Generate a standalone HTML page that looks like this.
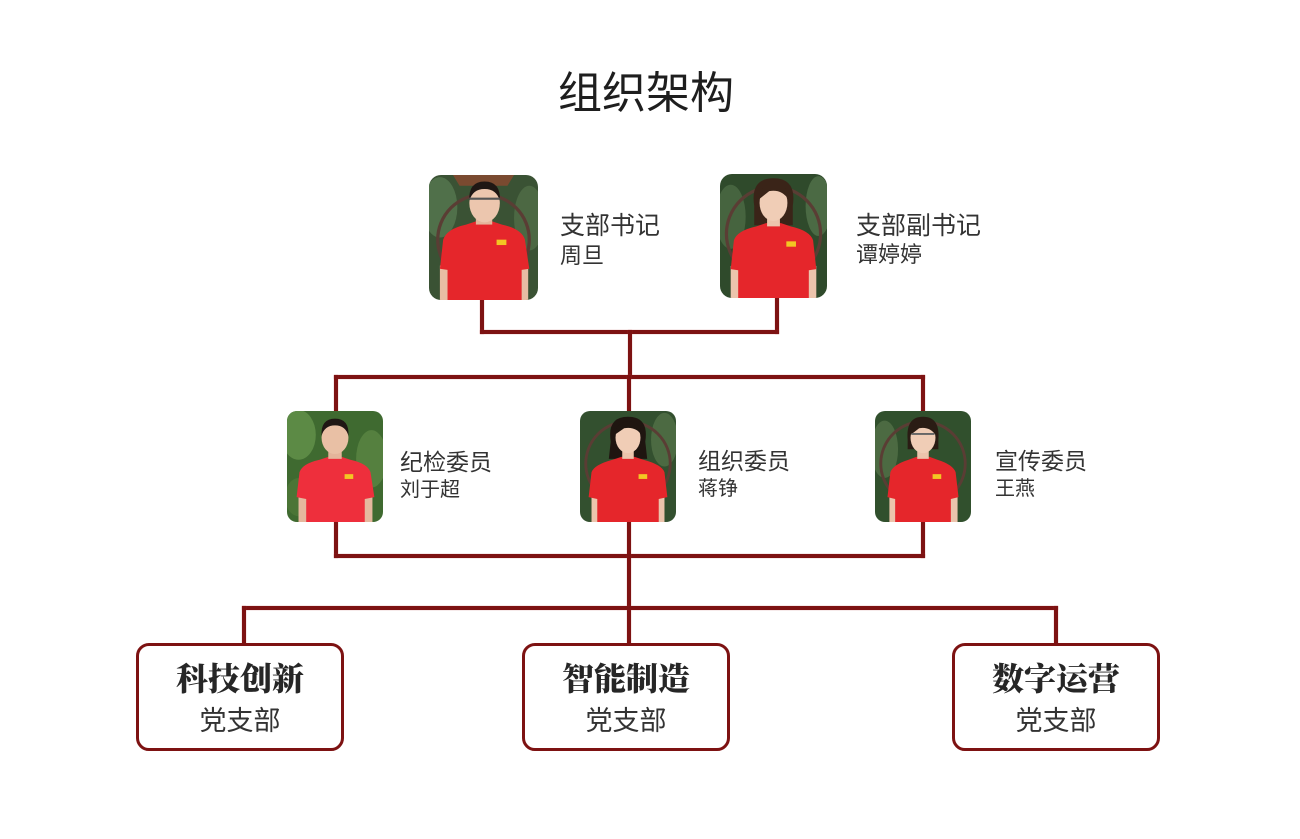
<!DOCTYPE html>
<html>
<head>
<meta charset="utf-8">
<style>
html,body{margin:0;padding:0;}
body{width:1300px;height:839px;background:#fff;position:relative;overflow:hidden;font-family:"Liberation Sans","Noto Sans CJK SC",sans-serif;color:#333;}
.t{position:absolute;white-space:nowrap;line-height:1;}
.ln{position:absolute;background:#7d1212;box-shadow:0 0 0.6px #b04040;}
.photo{position:absolute;overflow:hidden;border-radius:12px;}
.photo svg{display:block;width:100%;height:100%;}
.box{position:absolute;border:3px solid #7d1212;border-radius:13px;box-sizing:border-box;background:#fff;}
.bt{position:absolute;left:0;right:0;text-align:center;white-space:nowrap;line-height:1;}
.b1{top:17px;font-family:"Liberation Serif","Noto Serif CJK SC",serif;font-weight:900;font-size:32px;color:#262626;}
.b2{top:62px;font-size:27px;color:#333;}
</style>
</head>
<body>

<div class="t" style="left:558px;top:72px;font-size:44px;color:#1e1e1e;">组织架构</div>

<!-- connectors -->
<div class="ln" style="left:480px;top:298px;width:4px;height:36px;"></div>
<div class="ln" style="left:775px;top:296px;width:4px;height:38px;"></div>
<div class="ln" style="left:480px;top:330px;width:299px;height:4px;"></div>
<div class="ln" style="left:628px;top:330px;width:4px;height:49px;"></div>
<div class="ln" style="left:334px;top:375px;width:591px;height:4px;"></div>
<div class="ln" style="left:334px;top:375px;width:4px;height:38px;"></div>
<div class="ln" style="left:921px;top:375px;width:4px;height:38px;"></div>
<div class="ln" style="left:627px;top:375px;width:4px;height:38px;"></div>
<div class="ln" style="left:334px;top:520px;width:4px;height:38px;"></div>
<div class="ln" style="left:921px;top:520px;width:4px;height:38px;"></div>
<div class="ln" style="left:334px;top:554px;width:591px;height:4px;"></div>
<div class="ln" style="left:627px;top:520px;width:4px;height:126px;"></div>
<div class="ln" style="left:242px;top:606px;width:816px;height:4px;"></div>
<div class="ln" style="left:242px;top:606px;width:4px;height:40px;"></div>
<div class="ln" style="left:1054px;top:606px;width:4px;height:40px;"></div>

<!-- photo 1 -->
<div class="photo" style="left:429px;top:175px;width:109px;height:125px;">
<svg viewBox="0 0 100 116" preserveAspectRatio="none">
<rect width="100" height="116" fill="#3a5234"/>
<ellipse cx="10" cy="30" rx="16" ry="28" fill="#50704a"/>
<ellipse cx="92" cy="40" rx="14" ry="30" fill="#4c6843"/>
<polygon points="22,0 78,0 72,10 28,10" fill="#7a4a30"/>
<circle cx="50" cy="60" r="42" fill="none" stroke="#5a3d34" stroke-width="3"/>
<rect x="10" y="84" width="10" height="32" fill="#e8bca3"/>
<rect x="81" y="84" width="10" height="32" fill="#e8bca3"/>
<path d="M17 116 L17 88 L10 87 L13 60 Q16 50 34 46 L43 43 L58 43 L67 46 Q85 50 88 60 L92 87 L85 88 L85 116 Z" fill="#e5262b"/>
<rect x="43" y="36" width="15" height="10" fill="#e4b59b"/>
<ellipse cx="51" cy="26" rx="14" ry="18" fill="#ecc6ae"/>
<path d="M37 24 Q36 6 51 6 Q66 6 65 24 Q62 13 51 13 Q40 13 37 24 Z" fill="#1f1714"/>
<rect x="37" y="21" width="28" height="2" fill="#555"/>
<rect x="62" y="60" width="9" height="5" fill="#f3c623"/>
</svg>
</div>

<!-- photo 2 -->
<div class="photo" style="left:720px;top:174px;width:107px;height:124px;">
<svg viewBox="0 0 100 116" preserveAspectRatio="none">
<rect width="100" height="116" fill="#2f4a2b"/>
<ellipse cx="10" cy="40" rx="14" ry="30" fill="#46643f"/>
<ellipse cx="92" cy="30" rx="12" ry="28" fill="#4b6a44"/>
<circle cx="50" cy="56" r="44" fill="none" stroke="#5a3d34" stroke-width="3"/>
<path d="M32 30 Q28 4 50 4 Q72 4 68 30 L68 48 L32 48 Z" fill="#3a2418"/>
<rect x="10" y="86" width="10" height="30" fill="#ecc4ac"/>
<rect x="80" y="86" width="10" height="30" fill="#ecc4ac"/>
<path d="M17 116 L17 90 L10 89 L13 62 Q16 53 34 49 L43 46 L57 46 L66 49 Q84 53 87 62 L90 89 L83 90 L83 116 Z" fill="#e5262b"/>
<rect x="44" y="38" width="12" height="11" fill="#ecc4ac"/>
<ellipse cx="50" cy="27" rx="13" ry="17" fill="#f0cdb6"/>
<path d="M36 24 Q38 9 50 9 Q64 9 64 24 Q58 14 46 16 Z" fill="#3a2418"/>
<rect x="62" y="63" width="9" height="5" fill="#f3c623"/>
</svg>
</div>

<!-- photo 3 -->
<div class="photo" style="left:287px;top:411px;width:96px;height:111px;border-radius:10px;">
<svg viewBox="0 0 100 116" preserveAspectRatio="none">
<rect width="100" height="116" fill="#3f6a30"/>
<ellipse cx="12" cy="25" rx="18" ry="26" fill="#5c8a45"/>
<ellipse cx="88" cy="50" rx="16" ry="30" fill="#55803f"/>
<ellipse cx="12" cy="90" rx="14" ry="20" fill="#4b7536"/>
<rect x="12" y="88" width="11" height="28" fill="#e5b89e"/>
<rect x="78" y="88" width="11" height="28" fill="#e5b89e"/>
<path d="M20 116 L20 92 L10 90 L13 64 Q16 55 34 51 L43 48 L57 48 L66 51 Q84 55 87 64 L91 90 L81 92 L81 116 Z" fill="#ee2f3c"/>
<rect x="43" y="38" width="14" height="12" fill="#e4b59b"/>
<ellipse cx="50" cy="28" rx="14" ry="17" fill="#e9c0a5"/>
<path d="M36 26 Q35 8 50 8 Q65 8 64 26 Q61 15 50 15 Q39 15 36 26 Z" fill="#1f1714"/>
<rect x="60" y="66" width="9" height="5" fill="#f3c623"/>
</svg>
</div>

<!-- photo 4 -->
<div class="photo" style="left:580px;top:411px;width:96px;height:111px;border-radius:10px;">
<svg viewBox="0 0 100 116" preserveAspectRatio="none">
<rect width="100" height="116" fill="#33502f"/>
<ellipse cx="88" cy="30" rx="14" ry="28" fill="#4c6a42"/>
<circle cx="50" cy="55" r="44" fill="none" stroke="#5a3d34" stroke-width="3"/>
<path d="M32 32 Q28 6 50 6 Q72 6 68 32 L70 50 L30 50 Z" fill="#1f1510"/>
<rect x="12" y="88" width="10" height="28" fill="#ecc4ac"/>
<rect x="78" y="88" width="10" height="28" fill="#ecc4ac"/>
<path d="M18 116 L18 92 L9 90 L12 64 Q15 56 34 51 L43 48 L57 48 L66 51 Q85 56 88 64 L91 90 L82 92 L82 116 Z" fill="#e5262b"/>
<rect x="44" y="39" width="12" height="11" fill="#ecc4ac"/>
<ellipse cx="50" cy="28" rx="13" ry="16" fill="#f0cdb6"/>
<path d="M36 25 Q38 11 50 11 Q64 11 64 25 Q58 16 46 18 Z" fill="#1f1510"/>
<rect x="61" y="66" width="9" height="5" fill="#f3c623"/>
</svg>
</div>

<!-- photo 5 -->
<div class="photo" style="left:875px;top:411px;width:96px;height:111px;border-radius:10px;">
<svg viewBox="0 0 100 116" preserveAspectRatio="none">
<rect width="100" height="116" fill="#31502d"/>
<ellipse cx="10" cy="40" rx="14" ry="30" fill="#4c6a42"/>
<circle cx="50" cy="55" r="44" fill="none" stroke="#5a3d34" stroke-width="3"/>
<path d="M34 30 Q32 6 50 6 Q68 6 66 30 L66 40 L34 40 Z" fill="#2a1c14"/>
<rect x="15" y="88" width="9" height="28" fill="#ecc4ac"/>
<rect x="77" y="88" width="9" height="28" fill="#ecc4ac"/>
<path d="M21 116 L21 92 L13 90 L16 64 Q19 56 35 51 L43 48 L57 48 L65 51 Q81 56 84 64 L87 90 L79 92 L79 116 Z" fill="#e5262b"/>
<rect x="44" y="39" width="12" height="11" fill="#ecc4ac"/>
<ellipse cx="50" cy="28" rx="13" ry="16" fill="#f0cdb6"/>
<path d="M37 25 Q39 11 50 11 Q63 11 63 25 Q57 16 46 18 Z" fill="#2a1c14"/>
<rect x="38" y="23" width="24" height="2" fill="#666"/>
<rect x="60" y="66" width="9" height="5" fill="#f3c623"/>
</svg>
</div>

<!-- labels -->
<div class="t" style="left:560px;top:214px;font-size:25px;">支部书记</div>
<div class="t" style="left:560px;top:245px;font-size:22px;">周旦</div>
<div class="t" style="left:856px;top:214px;font-size:25px;">支部副书记</div>
<div class="t" style="left:856px;top:244px;font-size:22px;">谭婷婷</div>

<div class="t" style="left:400px;top:451px;font-size:23px;">纪检委员</div>
<div class="t" style="left:400px;top:480px;font-size:20px;">刘于超</div>
<div class="t" style="left:698px;top:450px;font-size:23px;">组织委员</div>
<div class="t" style="left:698px;top:479px;font-size:20px;">蒋铮</div>
<div class="t" style="left:995px;top:450px;font-size:23px;">宣传委员</div>
<div class="t" style="left:995px;top:479px;font-size:20px;">王燕</div>

<!-- boxes -->
<div class="box" style="left:136px;top:643px;width:208px;height:108px;">
  <div class="bt b1">科技创新</div>
  <div class="bt b2">党支部</div>
</div>
<div class="box" style="left:522px;top:643px;width:208px;height:108px;">
  <div class="bt b1">智能制造</div>
  <div class="bt b2">党支部</div>
</div>
<div class="box" style="left:952px;top:643px;width:208px;height:108px;">
  <div class="bt b1">数字运营</div>
  <div class="bt b2">党支部</div>
</div>

</body>
</html>
